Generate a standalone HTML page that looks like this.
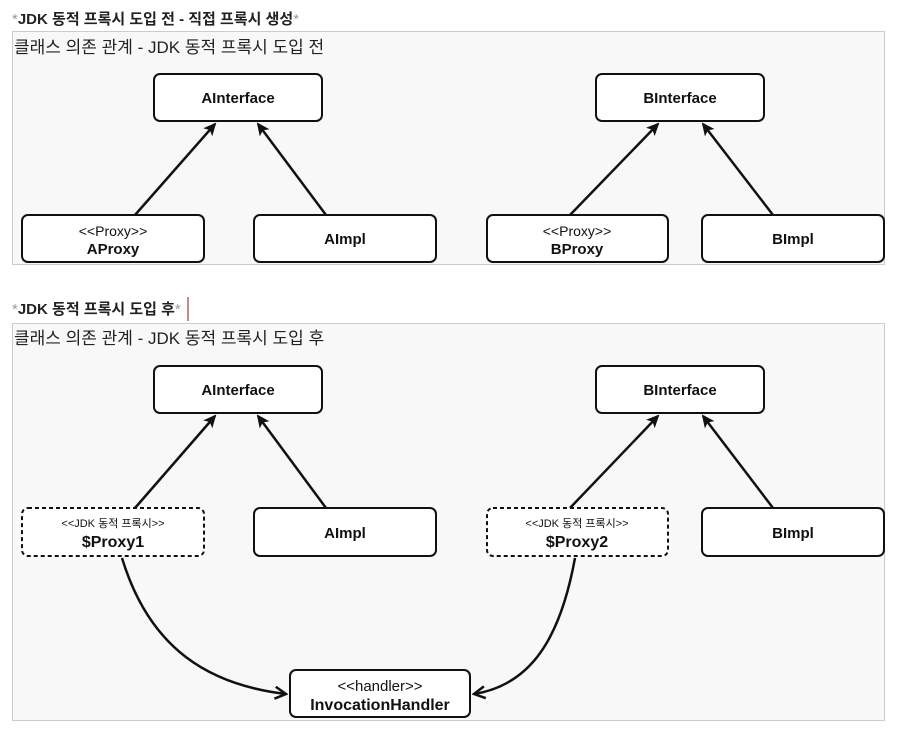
<!DOCTYPE html>
<html><head><meta charset="utf-8"><style>
body{margin:0;width:898px;height:731px;background:#fff;overflow:hidden;font-family:"Liberation Sans","Noto Sans CJK KR",sans-serif;}
.h{position:absolute;left:12px;font-size:15px;font-weight:bold;color:#222}
.h span{color:#999;font-weight:normal}
</style></head><body>
<div class="h" style="top:8px"><span>*</span>JDK 동적 프록시 도입 전 - 직접 프록시 생성<span>*</span></div>
<div class="h" style="top:298px"><span>*</span>JDK 동적 프록시 도입 후<span>*</span></div>
<div style="position:absolute;left:187px;top:297px;width:2px;height:24px;background:#c88"></div>
<svg width="898" height="731" style="position:absolute;left:0;top:0" font-family="Liberation Sans, Noto Sans CJK KR, sans-serif">
<defs><marker id="a" markerWidth="14" markerHeight="14" refX="11" refY="7" orient="auto" markerUnits="userSpaceOnUse"><path d="M0,1 L13,7 L0,13 L3,7z" fill="#111"/></marker>
<marker id="o" markerWidth="14" markerHeight="14" refX="12" refY="7" orient="auto" markerUnits="userSpaceOnUse"><path d="M1,1 L12,7 L1,13" fill="none" stroke="#111" stroke-width="2.5"/></marker></defs>
<rect x="12.5" y="31.5" width="872" height="233" fill="#f8f8f8" stroke="#ccc"/>
<rect x="12.5" y="323.5" width="872" height="397" fill="#f8f8f8" stroke="#ccc"/>
<text x="14" y="53" font-size="17" fill="#222">클래스 의존 관계 - JDK 동적 프록시 도입 전</text>
<text x="14" y="344" font-size="17" fill="#222">클래스 의존 관계 - JDK 동적 프록시 도입 후</text>
<g fill="#fff" stroke="#111" stroke-width="2">
<rect x="154" y="74" width="168" height="47" rx="6"/><rect x="596" y="74" width="168" height="47" rx="6"/>
<rect x="22" y="215" width="182" height="47" rx="6"/><rect x="254" y="215" width="182" height="47" rx="6"/>
<rect x="487" y="215" width="181" height="47" rx="6"/><rect x="702" y="215" width="182" height="47" rx="6"/>
<rect x="154" y="366" width="168" height="47" rx="6"/><rect x="596" y="366" width="168" height="47" rx="6"/>
<rect x="22" y="508" width="182" height="48" rx="6" stroke-dasharray="4,3"/><rect x="254" y="508" width="182" height="48" rx="6"/>
<rect x="487" y="508" width="181" height="48" rx="6" stroke-dasharray="4,3"/><rect x="702" y="508" width="182" height="48" rx="6"/>
<rect x="290" y="670" width="180" height="47" rx="6"/>
</g>
<g stroke="#111" stroke-width="2.5" fill="none" marker-end="url(#a)">
<line x1="135" y1="215" x2="215" y2="124"/><line x1="326" y1="215" x2="258" y2="124"/>
<line x1="570" y1="215" x2="658" y2="124"/><line x1="773" y1="215" x2="703" y2="124"/>
<line x1="135" y1="508" x2="215" y2="416"/><line x1="326" y1="508" x2="258" y2="416"/>
<line x1="570" y1="508" x2="658" y2="416"/><line x1="773" y1="508" x2="703" y2="416"/>
</g>
<g stroke="#111" stroke-width="2.5" fill="none" marker-end="url(#o)">
<path d="M122,558 C150,650 210,685 286,694"/>
<path d="M575,558 C560,640 530,685 474,694"/>
</g>
<g font-size="15" font-weight="bold" text-anchor="middle" fill="#111">
<text x="238" y="103">AInterface</text><text x="680" y="103">BInterface</text>
<text x="113" y="236" font-weight="normal" font-size="14">&lt;&lt;Proxy&gt;&gt;</text><text x="113" y="254">AProxy</text>
<text x="345" y="244">AImpl</text>
<text x="577" y="236" font-weight="normal" font-size="14">&lt;&lt;Proxy&gt;&gt;</text><text x="577" y="254">BProxy</text>
<text x="793" y="244">BImpl</text>
<text x="238" y="395">AInterface</text><text x="680" y="395">BInterface</text>
<text x="113" y="527" font-weight="normal" font-size="11">&lt;&lt;JDK 동적 프록시&gt;&gt;</text><text x="113" y="547" font-size="16">$Proxy1</text>
<text x="345" y="538">AImpl</text>
<text x="577" y="527" font-weight="normal" font-size="11">&lt;&lt;JDK 동적 프록시&gt;&gt;</text><text x="577" y="547" font-size="16">$Proxy2</text>
<text x="793" y="538">BImpl</text>
<text x="380" y="691" font-weight="normal">&lt;&lt;handler&gt;&gt;</text><text x="380" y="710" font-size="16">InvocationHandler</text>
</g>
</svg>
</body></html>
